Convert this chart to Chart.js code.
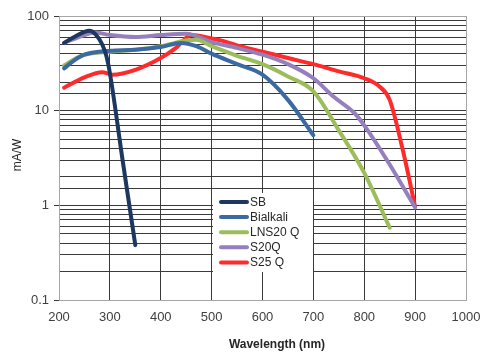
<!DOCTYPE html>
<html>
<head>
<meta charset="utf-8">
<script src="https://cdn.jsdelivr.net/npm/chart.js@4/dist/chart.umd.min.js"></script>
<style>
  html, body { margin: 0; padding: 0; background: #fff; }
  #wrap { width: 483px; height: 352px; }
</style>
</head>
<body>
<div id="wrap"><canvas id="respChart" width="483" height="352"></canvas></div>
<script>
// series names and colours
const seriesNames = ["SB", "Bialkali", "LNS20 Q", "S20Q", "S25 Q"];
const seriesColors = ["#1c3760", "#3b69a1", "#9cbd5b", "#9580bd", "#ff2b2b"];

// wavelength (nm) / responsivity (mA/W)
const sbX = [210, 230, 250, 260, 272, 285, 293, 300, 325, 350];
const sbY = [52, 60, 68, 70, 64, 50, 38, 25, 3.0, 0.38];

const bialkaliX = [210, 230, 250, 300, 350, 400, 440, 470, 500, 550, 600, 650, 700];
const bialkaliY = [28, 34, 39, 43, 44, 47, 52, 48, 40, 31, 24, 13, 5.5];

const lnsX = [210, 230, 250, 300, 350, 400, 450, 470, 500, 550, 600, 650, 700, 750, 800, 850];
const lnsY = [30, 35, 39, 42, 44, 48, 55, 56, 48, 38, 31, 23, 16, 6.2, 2.2, 0.58];

const s20X = [210, 250, 270, 300, 350, 400, 450, 500, 550, 600, 650, 700, 740, 780, 800, 850, 900];
const s20Y = [52, 63, 67, 63, 60, 63, 65, 53, 46, 39, 31, 22, 14, 9.5, 7, 2.7, 0.95];

const s25X = [210, 250, 285, 305, 350, 400, 430, 460, 500, 520, 550, 600, 650, 700, 750, 800, 830, 850, 875, 900];
const s25Y = [17.5, 22.5, 25.5, 24, 27, 36, 46, 63, 58, 55, 49, 42, 36, 31, 26, 22, 18, 13, 4, 0.97];

const xTicks = [200, 300, 400, 500, 600, 700, 800, 900, 1000];
const yMin = 0.1, yMax = 100;

function toPoints(xs, ys) {
  return xs.map((x, i) => ({ x: x, y: ys[i] }));
}

const allX = [sbX, bialkaliX, lnsX, s20X, s25X];
const allY = [sbY, bialkaliY, lnsY, s20Y, s25Y];

const datasets = seriesNames.map((name, i) => ({
  label: name,
  data: toPoints(allX[i], allY[i]),
  borderColor: seriesColors[i],
  backgroundColor: seriesColors[i],
  borderWidth: 4,
  pointRadius: 0,
  fill: false,
  cubicInterpolationMode: 'monotone',
  borderCapStyle: 'round',
  borderJoinStyle: 'round'
}));

function isDecade(v) {
  const l = Math.log10(v);
  return Math.abs(l - Math.round(l)) < 1e-6;
}

// white legend box sitting inside the plot, plus frame and axis titles
const extras = {
  id: 'extras',
  beforeDatasetsDraw(chart) {
    const ctx = chart.ctx;
    const a = chart.chartArea;
    ctx.save();
    ctx.strokeStyle = '#a6a6a6';
    ctx.lineWidth = 1;
    ctx.strokeRect(Math.round(a.left) + 0.5, Math.round(a.top) + 0.5,
      Math.round(a.right - a.left), Math.round(a.bottom - a.top));
    ctx.restore();
  },
  afterDatasetsDraw(chart) {
    const ctx = chart.ctx;
    ctx.save();
    // legend
    ctx.fillStyle = '#fff';
    ctx.fillRect(213, 193, 100, 79);
    ctx.font = '12px "Liberation Sans", Arial, sans-serif';
    ctx.textBaseline = 'middle';
    chart.data.datasets.forEach((ds, i) => {
      const y = 202 + i * 15.1;
      ctx.strokeStyle = ds.borderColor;
      ctx.lineWidth = 4;
      ctx.lineCap = 'round';
      ctx.beginPath();
      ctx.moveTo(221, y);
      ctx.lineTo(247, y);
      ctx.stroke();
      ctx.fillStyle = '#262626';
      ctx.fillText(ds.label, 250, y + 0.5);
    });
    // x title
    ctx.fillStyle = '#262626';
    ctx.font = 'bold 12px "Liberation Sans", Arial, sans-serif';
    ctx.textAlign = 'center';
    ctx.fillText('Wavelength (nm)', 277, 345);
    // y title
    ctx.translate(18, 155);
    ctx.rotate(-Math.PI / 2);
    ctx.font = '12px "Liberation Sans", Arial, sans-serif';
    ctx.fillText('mA/W', 0, 0);
    ctx.restore();
  }
};

new Chart(document.getElementById('respChart').getContext('2d'), {
  type: 'line',
  data: { datasets: datasets },
  plugins: [extras],
  options: {
    responsive: false,
    animation: false,
    layout: { padding: { top: 16, right: 17, left: 0, bottom: 0 } },
    plugins: {
      legend: { display: false },
      tooltip: { enabled: false }
    },
    scales: {
      x: {
        type: 'linear',
        min: xTicks[0],
        max: xTicks[xTicks.length - 1],
        afterBuildTicks: (s) => { s.ticks = xTicks.map(v => ({ value: v })); },
        afterFit: (s) => { s.height = 52; s.paddingLeft = 0; s.paddingRight = 0; },
        grid: { color: '#3a3a3a', lineWidth: 1, drawTicks: false },
        border: { display: false },
        ticks: {
          padding: 10,
          color: '#404040',
          font: { family: '"Liberation Sans", Arial, sans-serif', size: 13 },
          maxRotation: 0,
          callback: (v) => String(v)
        }
      },
      y: {
        type: 'logarithmic',
        min: yMin,
        max: yMax,
        afterFit: (s) => { s.width = 59; s.paddingTop = 0; s.paddingBottom = 0; },
        grid: {
          color: '#3a3a3a',
          lineWidth: 1,
          tickLength: 5,
          tickColor: (c) => (c.tick && isDecade(c.tick.value)) ? '#3a3a3a' : 'rgba(0,0,0,0)'
        },
        border: { display: false },
        ticks: {
          autoSkip: false,
          padding: 5,
          color: '#404040',
          font: { family: '"Liberation Sans", Arial, sans-serif', size: 13 },
          callback: (v) => isDecade(v) ? String(v) : ''
        }
      }
    }
  }
});
</script>
</body>
</html>
